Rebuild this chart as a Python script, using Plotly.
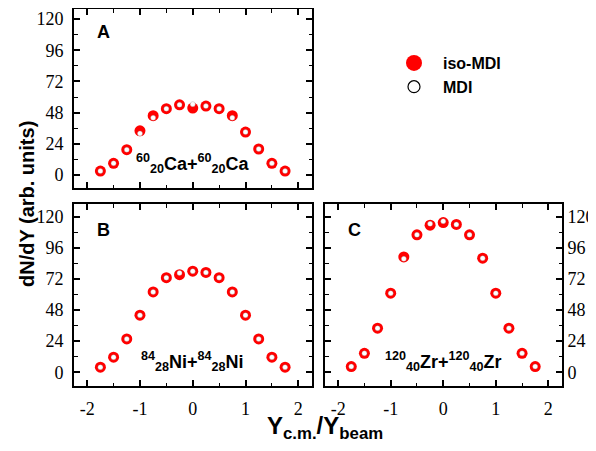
import plotly.graph_objects as go

ycm = [-1.75, -1.5, -1.25, -1.0, -0.75, -0.5, -0.25, 0.0, 0.25, 0.5, 0.75, 1.0, 1.25, 1.5, 1.75]

ca_iso = [3, 9, 19.5, 34, 45.6, 51, 54, 51.5, 53, 51, 45.6, 33, 20, 9, 3]
ca_mdi = [3, 9, 19.5, 32, 44, 51, 54, 54.5, 53, 51, 44, 33, 20, 9, 3]

ni_iso = [3.9, 11.6, 25.7, 44, 62, 73, 75.3, 78, 77, 73, 62, 44, 25.7, 11.6, 3.9]
ni_mdi = [3.9, 11.6, 25.7, 44, 62, 73, 76.6, 78, 77, 73, 62, 44, 25.7, 11.6, 3.9]

zr_iso = [4.4, 14.6, 34, 61, 89, 106, 113.5, 115.5, 114, 106, 88, 61, 34, 14.6, 4.4]
zr_mdi = [4.4, 14.6, 34, 61, 87.5, 106, 114.5, 116.5, 114, 106, 88, 61, 34, 14.6, 4.4]

x_tickvals = [-2, -1, 0, 1, 2]
x_ticktext = ["-2", "-1", "0", "1", "2"]
y_tickvals = [0, 24, 48, 72, 96, 120]

panel_letters = ["A", "B", "C"]
reaction_labels = [
    "<sup>60</sup><sub>20</sub>Ca+<sup>60</sup><sub>20</sub>Ca",
    "<sup>84</sup><sub>28</sub>Ni+<sup>84</sup><sub>28</sub>Ni",
    "<sup>120</sup><sub>40</sub>Zr+<sup>120</sup><sub>40</sub>Zr",
]
series_names = ["iso-MDI", "MDI"]

RED = "#ff0000"
fig = go.Figure()

panels = [(ca_iso, ca_mdi, "x", "y"), (ni_iso, ni_mdi, "x2", "y2"), (zr_iso, zr_mdi, "x3", "y3")]
for iso, mdi, xa, ya in panels:
    fig.add_trace(go.Scatter(x=ycm, y=iso, mode="markers", xaxis=xa, yaxis=ya, showlegend=False,
                             marker=dict(size=11, color=RED, line=dict(width=0))))
    fig.add_trace(go.Scatter(x=ycm, y=mdi, mode="markers", xaxis=xa, yaxis=ya, showlegend=False,
                             marker=dict(size=5, color="white", line=dict(width=0.3, color="#888888"))))

# legend entries
fig.add_trace(go.Scatter(x=[None], y=[None], mode="markers", name=series_names[0],
                         marker=dict(size=16, color=RED, line=dict(width=0))))
fig.add_trace(go.Scatter(x=[None], y=[None], mode="markers", name=series_names[1],
                         marker=dict(size=12, color="white", line=dict(width=1.2, color="black"))))

# page body has an 8px margin: figure px = screen px - 8
W, H = 588, 443
OFF = 8


def px(X):
    return (X - OFF) / W


def py(Y):
    return 1 - (Y - OFF) / H


xdA = [px(74), px(312)]
xdC = [px(325), px(562)]
ydA = [py(188), py(9)]
ydB = [py(386), py(204)]

SERIF = "Liberation Serif, Times New Roman, serif"
tickfont = dict(family=SERIF, size=18, color="black")
common_x = dict(range=[-2.25, 2.26], tickvals=x_tickvals, ticktext=x_ticktext, ticks="inside",
                ticklen=6, tickwidth=1.5, tickcolor="black", showline=True, linewidth=2,
                linecolor="black", mirror="ticks", showgrid=False, zeroline=False,
                tickfont=tickfont, automargin=False, ticklabelstandoff=5,
                minor=dict(tick0=0, dtick=0.5, ticks="inside", ticklen=3.5, tickwidth=1.2,
                           tickcolor="black"))
common_y = dict(tickvals=y_tickvals, ticks="inside", ticklen=6, tickwidth=1.5,
                tickcolor="black", showline=True, linewidth=2, linecolor="black", mirror="ticks",
                showgrid=False, zeroline=False, tickfont=tickfont, automargin=False,
                minor=dict(tick0=0, dtick=12, ticks="inside", ticklen=3.5, tickwidth=1.2,
                           tickcolor="black"))

fig.update_layout(
    width=W, height=H, margin=dict(l=0, r=0, t=0, b=0, autoexpand=False),
    paper_bgcolor="white", plot_bgcolor="white",
    font=dict(family=SERIF),
    xaxis=dict(domain=xdA, anchor="y", showticklabels=False, **common_x),
    yaxis=dict(domain=ydA, anchor="x", range=[-10, 127.7], ticklabelstandoff=5, **common_y),
    xaxis2=dict(domain=xdA, anchor="y2", **common_x),
    yaxis2=dict(domain=ydB, anchor="x2", range=[-10.6, 129.8], ticklabelstandoff=5, **common_y),
    xaxis3=dict(domain=xdC, anchor="y3", **common_x),
    yaxis3=dict(domain=ydB, anchor="x3", side="right", range=[-10.6, 129.8],
                ticklabelstandoff=0, **common_y),
    legend=dict(x=377 / W, y=1 - 38 / H, xanchor="left", yanchor="top", itemwidth=48,
                font=dict(family="Liberation Sans", size=16, color="black", weight="bold"),
                bgcolor="rgba(0,0,0,0)", tracegroupgap=0),
)

bold = dict(family="Liberation Sans", color="black", weight="bold")
letter_pos = [("x", "y", 110), ("x2", "y2", 110), ("x3", "y3", 110)]
for (xa, ya, ly), letter, rlabel in zip(letter_pos, panel_letters, reaction_labels):
    fig.add_annotation(x=-1.69, y=ly, xref=xa, yref=ya, text=letter, showarrow=False,
                       font=dict(size=18, **bold), xanchor="center", yanchor="middle")
    fig.add_annotation(x=0.0, y=8.5, xref=xa, yref=ya, text=rlabel, showarrow=False,
                       font=dict(size=18, **bold), xanchor="center", yanchor="middle")

fig.add_annotation(x=px(27), y=py(204), xref="paper", yref="paper", text="dN/dY (arb. units)",
                   textangle=-90, showarrow=False, font=dict(size=20, **bold),
                   xanchor="center", yanchor="middle")
fig.add_annotation(x=px(325), y=py(427), xref="paper", yref="paper",
                   text="Y<sub>c.m.</sub>/Y<sub>beam</sub>", showarrow=False,
                   font=dict(size=24, **bold), xanchor="center", yanchor="middle")

fig.write_html("out.html")
